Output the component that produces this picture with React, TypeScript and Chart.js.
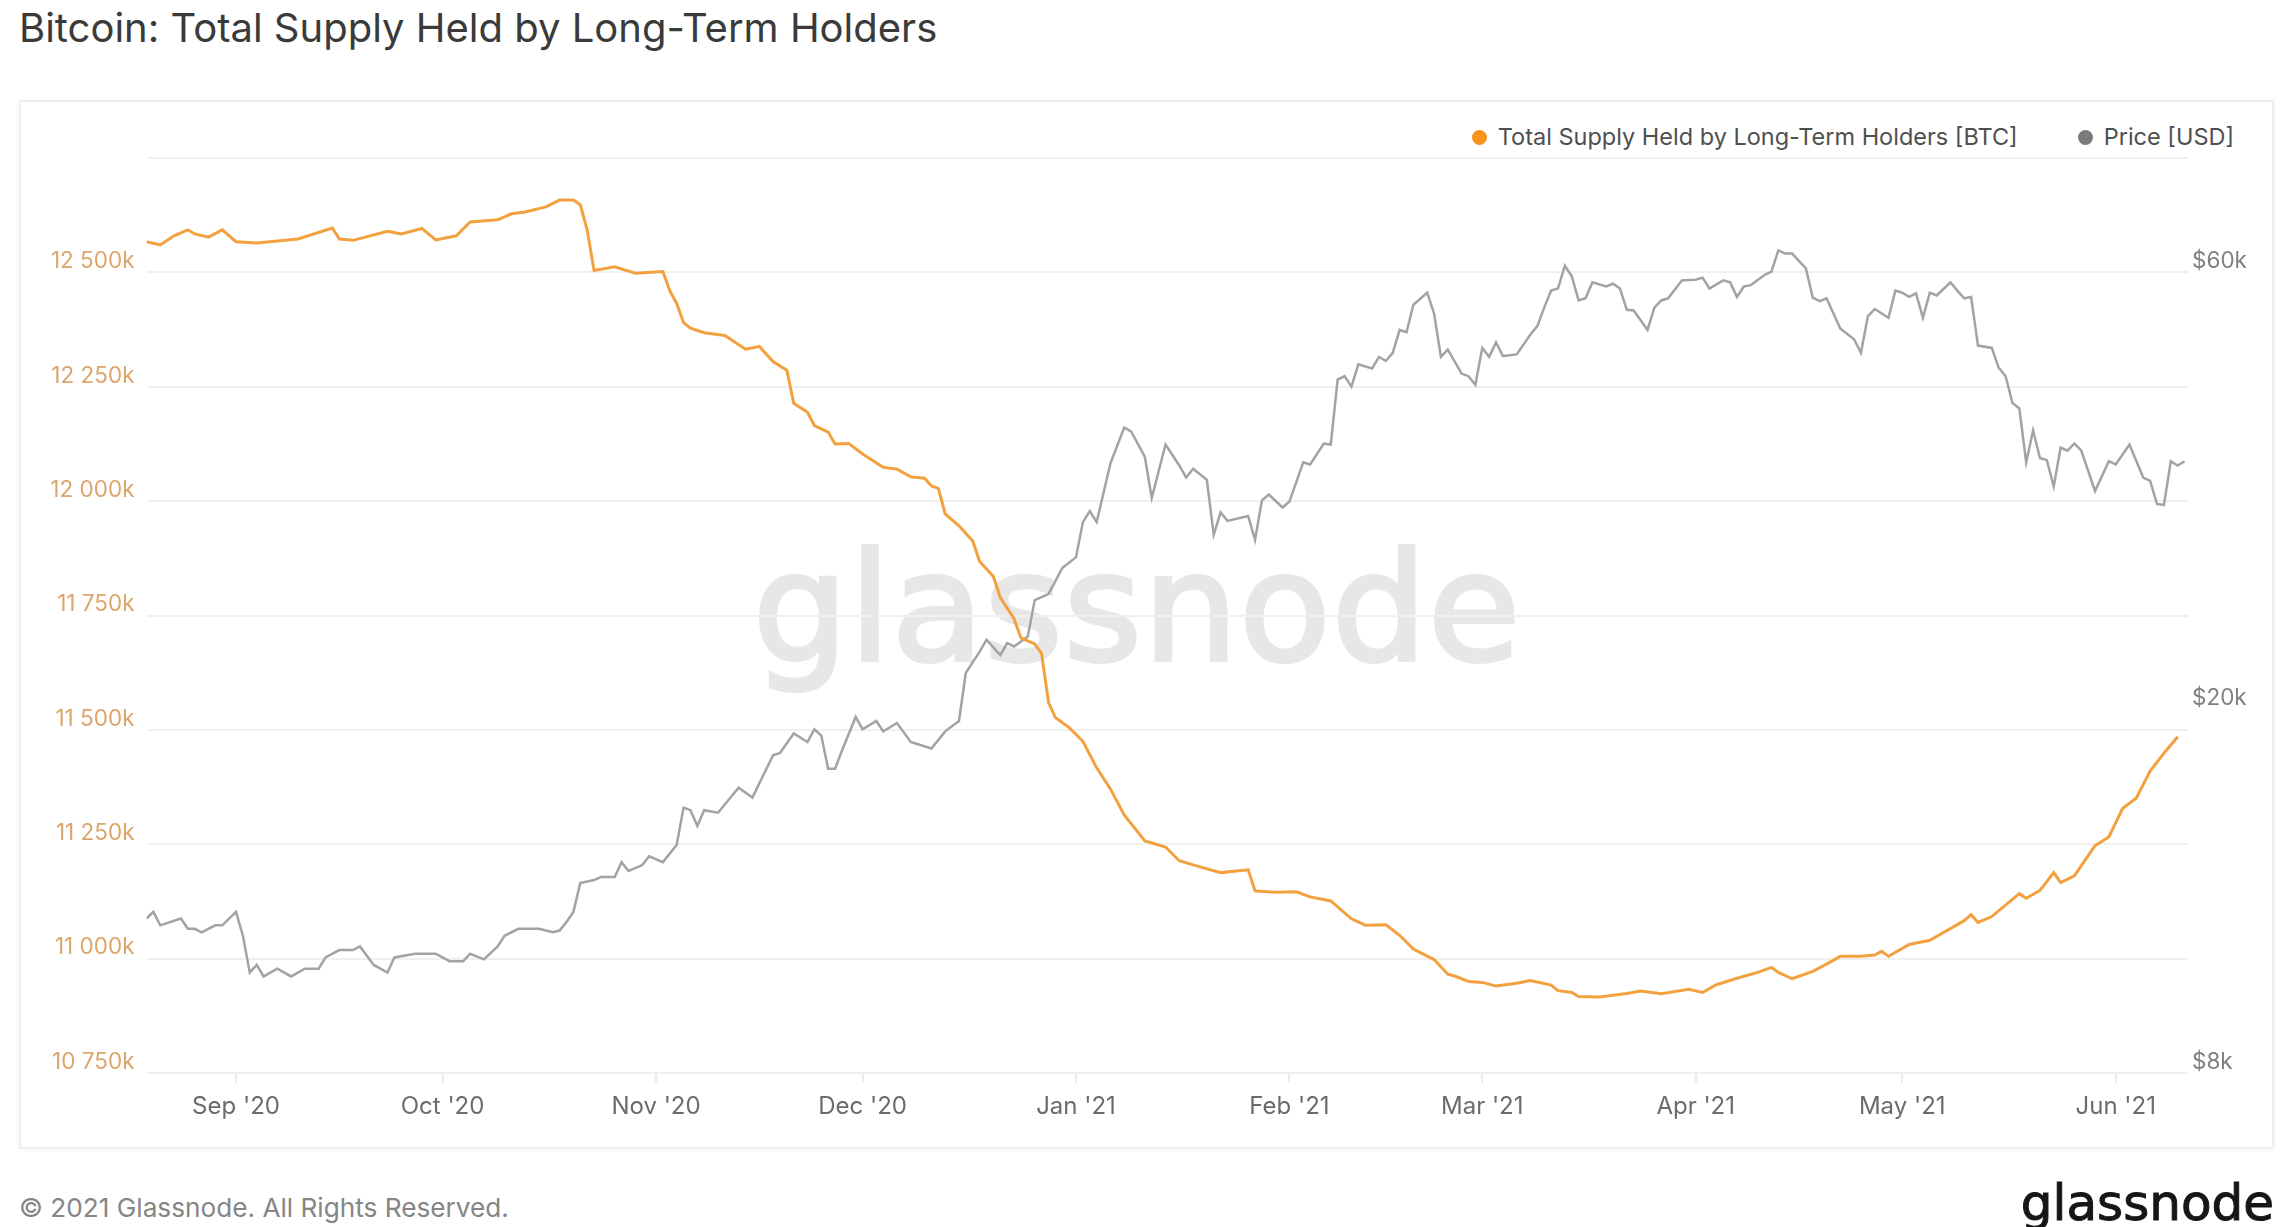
import { useEffect, useRef } from "react";
import Chart from "chart.js/auto";

// x values are days since 19 Aug 2020
const monthDays = [13, 43, 74, 104, 135, 166, 194, 225, 255, 286];
const monthLabels = ["Sep '20", "Oct '20", "Nov '20", "Dec '20", "Jan '21", "Feb '21", "Mar '21", "Apr '21", "May '21", "Jun '21"];

// supply held by long-term holders, thousands of BTC
const supplyDay = [
  0, 2, 4, 6, 7, 9, 11, 13, 16, 22, 27, 28, 30, 35, 37, 40, 42, 45, 47, 51,
  53, 55, 58, 60, 62, 63, 64, 65, 68, 71, 75, 76, 77, 78, 79, 81, 84, 87, 89, 91,
  93, 94, 96, 97, 99, 100, 102, 104, 107, 109, 111, 113, 114, 115, 116, 118, 120, 121, 123, 124,
  126, 127, 129, 130, 131, 132, 134, 136, 138, 140, 142, 145, 148, 150, 152, 156, 160, 161, 164, 167,
  169, 172, 175, 177, 180, 182, 184, 187, 189, 190, 192, 194, 196, 199, 201, 204, 205, 207, 208, 211,
  213, 215, 217, 220, 224, 226, 228, 231, 234, 236, 237, 239, 242, 244, 246, 249, 251, 252, 253, 256,
  259, 261, 264, 265, 266, 268, 272, 273, 275, 277, 278, 280, 283, 285, 287, 289, 291, 293, 295,
];
const supplyBtc = [
  12567, 12560, 12580, 12593, 12584, 12577, 12593, 12567, 12564, 12573, 12597, 12573, 12570, 12590, 12584, 12596, 12571, 12580, 12610, 12615,
  12628, 12632, 12643, 12658, 12658, 12648, 12593, 12504, 12512, 12498, 12502, 12460, 12432, 12390, 12378, 12368, 12362, 12332, 12338, 12305,
  12286, 12214, 12194, 12165, 12151, 12125, 12126, 12103, 12074, 12070, 12053, 12050, 12033, 12028, 11972, 11946, 11913, 11868, 11835, 11789,
  11743, 11701, 11688, 11667, 11560, 11527, 11505, 11475, 11417, 11371, 11314, 11257, 11244, 11214, 11205, 11188, 11194, 11148, 11145, 11146,
  11135, 11126, 11087, 11073, 11074, 11051, 11021, 10998, 10966, 10962, 10950, 10948, 10940, 10946, 10952, 10942, 10930, 10926, 10917, 10916,
  10920, 10924, 10929, 10923, 10933, 10926, 10943, 10957, 10970, 10981, 10970, 10956, 10972, 10988, 11005, 11005, 11008, 11016, 11005, 11031,
  11040, 11057, 11083, 11096, 11079, 11092, 11142, 11132, 11149, 11188, 11166, 11181, 11247, 11266, 11328, 11351, 11410, 11449, 11485,
];

// BTC price, thousands of USD
const priceDay = [
  0, 1, 2, 5, 6, 7, 8, 10, 11, 12, 13, 14, 15, 16, 17, 19, 21, 23, 25, 26,
  28, 30, 31, 33, 35, 36, 39, 42, 44, 46, 47, 49, 51, 52, 54, 56, 57, 59, 60, 61,
  62, 63, 65, 66, 68, 69, 70, 72, 73, 75, 77, 78, 79, 80, 81, 83, 86, 88, 91, 92,
  94, 96, 97, 98, 99, 100, 101, 103, 104, 106, 107, 109, 111, 114, 116, 118, 119, 121, 122, 124,
  125, 126, 128, 129, 131, 133, 135, 136, 137, 138, 140, 142, 143, 145, 146, 148, 150, 151, 152, 154,
  155, 156, 157, 160, 161, 162, 163, 165, 166, 168, 169, 171, 172, 173, 174, 175, 176, 178, 179, 180,
  181, 182, 183, 184, 186, 187, 188, 189, 191, 192, 193, 194, 195, 196, 197, 199, 201, 202, 203, 204,
  205, 206, 207, 208, 209, 210, 212, 213, 214, 215, 216, 218, 219, 220, 221, 223, 225, 226, 227, 229,
  230, 231, 232, 233, 235, 236, 237, 238, 239, 241, 242, 243, 244, 246, 248, 249, 250, 251, 253, 254,
  255, 256, 257, 258, 259, 260, 262, 263, 264, 265, 266, 268, 269, 270, 271, 272, 273, 274, 275, 276,
  277, 278, 279, 280, 281, 283, 285, 286, 288, 290, 291, 292, 293, 294, 295, 296,
];
const priceUsd = [
  11.8, 12.0, 11.6, 11.8, 11.5, 11.5, 11.4, 11.6, 11.6, 11.8, 12.0, 11.3, 10.3, 10.5, 10.2, 10.4, 10.2, 10.4, 10.4, 10.7,
  10.9, 10.9, 11.0, 10.5, 10.3, 10.7, 10.8, 10.8, 10.6, 10.6, 10.8, 10.65, 11.0, 11.3, 11.5, 11.5, 11.5, 11.4, 11.45, 11.7,
  12.0, 12.9, 13.0, 13.1, 13.1, 13.6, 13.3, 13.5, 13.8, 13.6, 14.2, 15.6, 15.5, 14.9, 15.5, 15.4, 16.4, 16.0, 17.8, 17.9,
  18.8, 18.4, 19.0, 18.7, 17.2, 17.2, 18.0, 19.6, 19.0, 19.4, 18.9, 19.3, 18.4, 18.1, 18.9, 19.4, 21.9, 23.1, 23.8, 22.9,
  23.6, 23.4, 24.0, 26.3, 26.7, 28.5, 29.3, 32.0, 32.9, 32.0, 37.1, 40.6, 40.2, 37.7, 34.0, 38.9, 36.9, 35.8, 36.6, 35.6,
  31.0, 32.8, 32.1, 32.5, 30.6, 33.8, 34.3, 33.2, 33.7, 37.2, 37.0, 39.0, 38.9, 45.8, 46.2, 45.0, 47.6, 47.1, 48.5, 48.0,
  49.0, 51.9, 51.6, 55.3, 57.0, 54.1, 48.5, 49.4, 46.5, 46.2, 45.2, 49.6, 48.5, 50.3, 48.6, 48.8, 51.3, 52.4, 54.9, 57.3,
  57.6, 61.0, 59.4, 55.9, 56.2, 58.5, 57.9, 58.3, 57.6, 54.6, 54.5, 51.9, 54.9, 55.9, 56.2, 58.8, 58.9, 59.2, 57.6, 58.8,
  58.5, 56.4, 57.9, 58.1, 59.6, 60.1, 63.4, 62.9, 62.9, 60.6, 56.3, 55.8, 56.2, 52.1, 50.7, 49.0, 53.7, 54.7, 53.5, 57.3,
  57.0, 56.4, 56.9, 53.5, 57.0, 56.6, 58.5, 57.3, 56.2, 56.4, 49.9, 49.6, 47.2, 46.2, 43.2, 42.6, 37.2, 40.3, 37.6, 37.4,
  35.0, 38.6, 38.3, 39.0, 38.3, 34.6, 37.3, 37.0, 38.9, 35.8, 35.5, 33.5, 33.4, 37.3, 36.9, 37.3,
];

const priceTicks = [8, 20, 60];

const ORANGE = "#f3a13f";
const GREY = "#a3a3a3";
const FONT = "Inter, Roboto, sans-serif";
const LOGO_FONT = "'DejaVu Sans', sans-serif";

function fmtSupply(v: number) {
  const k = Math.floor(v / 1000);
  const rest = String(Math.round(v % 1000)).padStart(3, "0");
  return `${k} ${rest}k`;
}

function SupplyChart() {
  const canvasRef = useRef<HTMLCanvasElement>(null);

  useEffect(() => {
    if (!canvasRef.current) return;
    const chart = new Chart(canvasRef.current, {
      type: "line",
      data: {
        datasets: [
          {
            label: "Total Supply Held by Long-Term Holders [BTC]",
            data: supplyDay.map((d, i) => ({ x: d, y: supplyBtc[i] })),
            borderColor: ORANGE,
            borderWidth: 3,
            pointRadius: 0,
            tension: 0,
            yAxisID: "y",
          },
          {
            label: "Price [USD]",
            data: priceDay.map((d, i) => ({ x: d, y: priceUsd[i] })),
            borderColor: GREY,
            borderWidth: 2.5,
            pointRadius: 0,
            tension: 0,
            yAxisID: "y1",
          },
        ],
      },
      options: {
        responsive: true,
        maintainAspectRatio: false,
        animation: false,
        events: [],
        layout: { padding: { top: 57, left: 0, right: 0, bottom: 0 } },
        plugins: {
          legend: { display: false },
          tooltip: { enabled: false },
        },
        scales: {
          x: {
            type: "linear",
            min: 0,
            max: 296.5,
            afterFit: (s: any) => {
              s.height = 75;
            },
            afterBuildTicks: (s: any) => {
              s.ticks = monthDays.map((v) => ({ value: v }));
            },
            ticks: {
              autoSkip: false,
              maxRotation: 0,
              padding: 9,
              color: "#6b6b6b",
              font: { family: FONT, size: 24 },
              callback: (_v: any, i: number) => monthLabels[i],
            },
            grid: {
              drawOnChartArea: false,
              drawTicks: true,
              tickLength: 10,
              color: "#ececec",
              lineWidth: 2,
            },
            border: { display: false },
          },
          y: {
            position: "left",
            min: 10750,
            max: 12750,
            afterFit: (s: any) => {
              s.width = 126.5;
            },
            ticks: {
              stepSize: 250,
              padding: 12,
              labelOffset: -11,
              color: "#dca56a",
              font: { family: FONT, size: 22.5 },
              callback: (v: any) => (v >= 12750 ? "" : fmtSupply(Number(v))),
            },
            grid: { color: "#f0f0f0", lineWidth: 2, drawTicks: false },
            border: { display: false },
          },
          y1: {
            type: "logarithmic",
            position: "right",
            min: 8,
            max: 80,
            afterFit: (s: any) => {
              s.width = 85;
            },
            afterBuildTicks: (s: any) => {
              s.ticks = priceTicks.map((v) => ({ value: v }));
            },
            ticks: {
              padding: 4,
              labelOffset: -11,
              color: "#808080",
              font: { family: FONT, size: 22.5 },
              callback: (v: any) => `$${v}k`,
            },
            grid: { display: false, drawTicks: false },
            border: { display: false },
          },
        },
      },
    });
    return () => chart.destroy();
  }, []);

  return <canvas ref={canvasRef} />;
}

export default function App() {
  return (
    <div
      style={{
        position: "absolute",
        left: 0,
        top: 0,
        width: 2286,
        height: 1227,
        background: "#fff",
        fontFamily: FONT,
        overflow: "hidden",
      }}
    >
      <div
        style={{
          position: "absolute",
          left: 19,
          top: 4,
          fontSize: 40,
          lineHeight: "48px",
          color: "#3a3a3a",
          whiteSpace: "nowrap",
        }}
      >
        Bitcoin: Total Supply Held by Long-Term Holders
      </div>

      <div
        style={{
          position: "absolute",
          left: 19,
          top: 100,
          width: 2255,
          height: 1049,
          boxSizing: "border-box",
          border: "2px solid #efefef",
          boxShadow: "0 0 4px rgba(0,0,0,0.05)",
        }}
      />

      <div
        style={{
          position: "absolute",
          left: 1137,
          top: 533,
          transform: "translateX(-50%)",
          fontFamily: LOGO_FONT,
          fontSize: 150,
          lineHeight: 1,
          letterSpacing: 1,
          color: "#e7e7e7",
          WebkitTextStroke: "4px #e7e7e7",
          whiteSpace: "nowrap",
        }}
      >
        glassnode
      </div>

      <div
        style={{
          position: "absolute",
          right: 52,
          top: 123,
          display: "flex",
          alignItems: "center",
          gap: 60,
          fontSize: 23.5,
          lineHeight: "28px",
          color: "#4f4f4f",
          whiteSpace: "nowrap",
        }}
      >
        <span style={{ display: "flex", alignItems: "center", gap: 11 }}>
          <span style={{ width: 15, height: 15, borderRadius: 8, background: "#f7931a" }} />
          Total Supply Held by Long-Term Holders [BTC]
        </span>
        <span style={{ display: "flex", alignItems: "center", gap: 11 }}>
          <span style={{ width: 15, height: 15, borderRadius: 8, background: "#7a7a7a" }} />
          Price [USD]
        </span>
      </div>

      <div style={{ position: "absolute", left: 20, top: 101, width: 2253, height: 1047 }}>
        <SupplyChart />
      </div>

      <div
        style={{
          position: "absolute",
          left: 19,
          top: 1192,
          fontSize: 26.2,
          lineHeight: "32px",
          color: "#858585",
          whiteSpace: "nowrap",
        }}
      >
        © 2021 Glassnode. All Rights Reserved.
      </div>

      <div
        style={{
          position: "absolute",
          right: 12,
          top: 1178,
          fontFamily: LOGO_FONT,
          fontSize: 50,
          lineHeight: 1,
          color: "#161616",
          WebkitTextStroke: "1px #161616",
          whiteSpace: "nowrap",
        }}
      >
        glassnode
      </div>
    </div>
  );
}
